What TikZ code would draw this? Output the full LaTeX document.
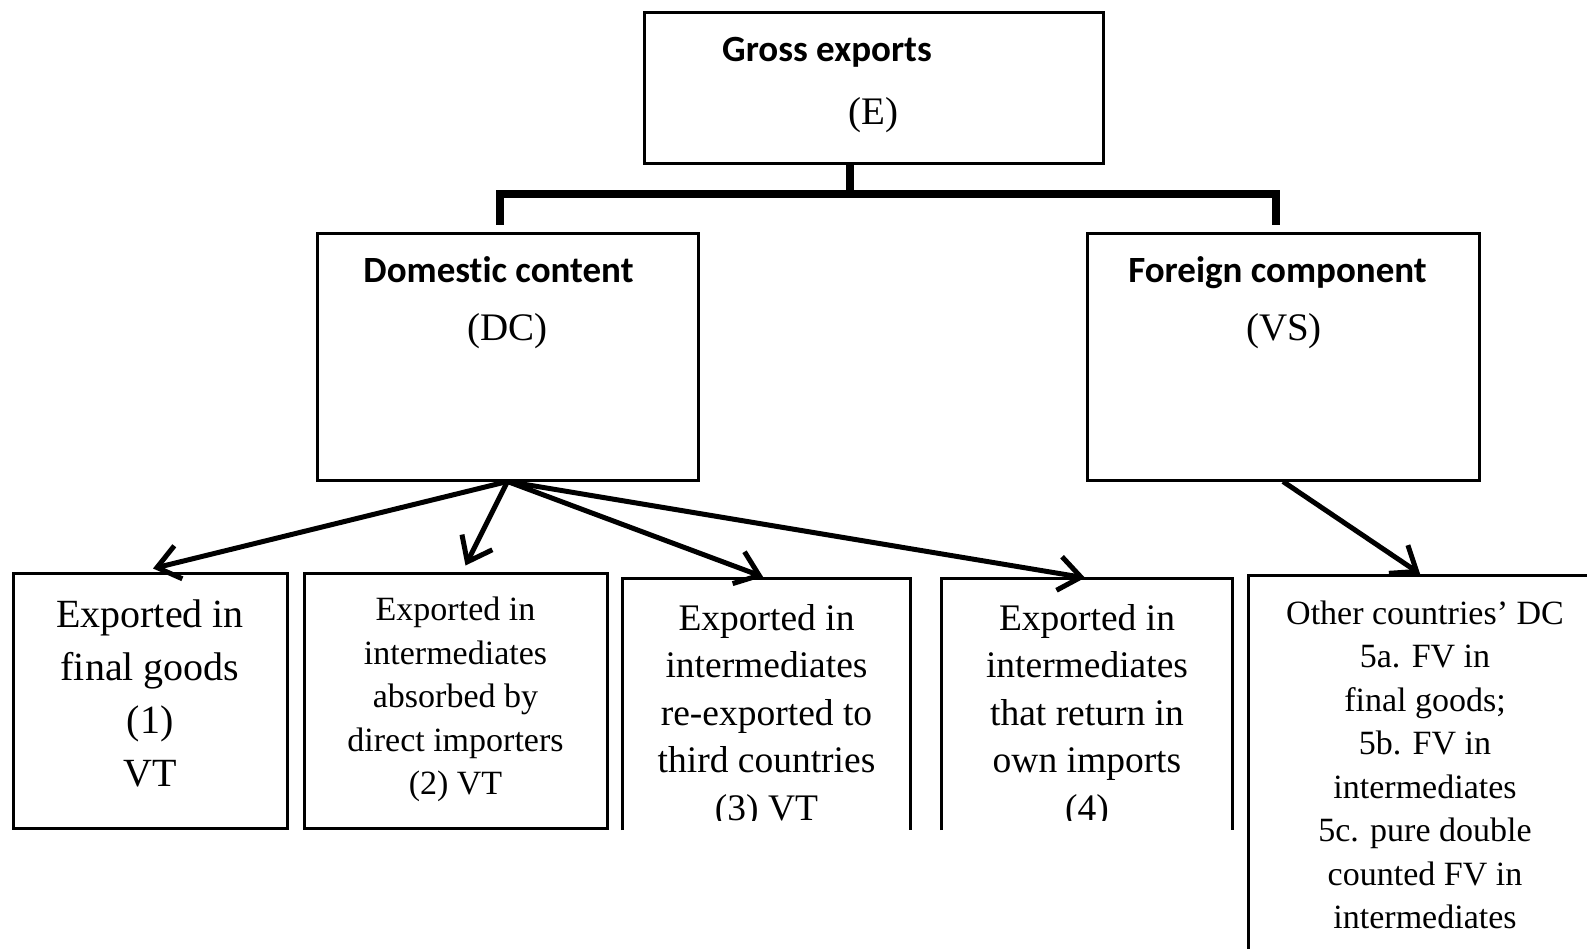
\documentclass[tikz,border=0pt]{standalone}
\usepackage{fontspec}
\setmainfont{Liberation Serif}
\newfontfamily\calib[Ligatures={NoCommon,NoContextual}]{Carlito}
\usetikzlibrary{arrows.meta}
\tikzset{
  frame/.style={draw=black, line width=3pt, inner sep=0pt},
  hollow/.style={inner sep=0pt},
  head/.style={font=\calib\bfseries\fontsize{37}{44}\selectfont, anchor=base, inner sep=0pt},
  tag/.style={font=\fontsize{39}{46}\selectfont, anchor=base, inner sep=0pt},
  conn/.style={line width=5pt, -{Straight Barb[length=22pt,width=34pt,line width=5pt]}},
  bar/.style={line width=8pt, line join=miter},
  txtA/.style={align=center, inner sep=0pt, font=\fontsize{40}{53}\selectfont},
  txtB/.style={align=center, inner sep=0pt, font=\fontsize{34}{43.5}\selectfont},
  txtC/.style={align=center, inner sep=0pt, font=\fontsize{37.5}{47.5}\selectfont},
}
\begin{document}
\begin{tikzpicture}[x=1pt,y=-1pt]
\fill[white] (0,0) rectangle (1587,949);
\useasboundingbox (0,0) rectangle (1587,949);

% top level
\node[frame, minimum width=459pt, minimum height=151pt] (E) at (873.5,88.5) {};
\node[head] (Et) at (827,62) {Gross exports};
\node[tag] (Ev) at (873.5,125) {(E)};

\node[frame, minimum width=381pt, minimum height=246pt] (DC) at (507.5,357) {};
\node[head] (DCt) at (498.5,283) {Domestic content};
\node[tag] (DCv) at (507.5,341) {(DC)};

\node[frame, minimum width=392pt, minimum height=246pt] (FC) at (1283,357) {};
\node[head] (FCt) at (1277.5,283) {Foreign component};
\node[tag] (FCv) at (1284,341) {(VS)};

% bracket
\coordinate (J) at (850,194);
\coordinate (JL) at (500,194);
\coordinate (JR) at (1276,194);
\coordinate (DCtop) at (500,225);
\coordinate (FCtop) at (1276,225);
\draw[bar] (E.south -| J) -- (J);
\draw[bar] (DCtop) -- (JL) -- (JR) -- (FCtop);

% bottom boxes
\node[frame, minimum width=274pt, minimum height=255pt] (B1) at (150,700.5) {};
\node[txtA] (T1) at (150,693.5) {Exported in\\final goods\\(1)\\VT};

\node[frame, minimum width=303pt, minimum height=255pt] (B2) at (455.5,700.5) {};
\node[txtB] (T2) at (455.5,699.7) {Exported in\\intermediates\\absorbed by\\direct importers\\(2) VT};

\node[hollow, minimum width=287pt, minimum height=251pt] (B3) at (766.5,704.5) {};
\draw[frame] (B3.south west) -- (B3.north west) -- (B3.north east) -- (B3.south east);
\node[hollow, minimum width=290pt, minimum height=251pt] (B4) at (1087,704.5) {};
\draw[frame] (B4.south west) -- (B4.north west) -- (B4.north east) -- (B4.south east);
\begin{scope}
\clip (600,560) rectangle (1240,820);
\node[txtC] (T3) at (766.5,716) {Exported in\\intermediates\\re-exported to\\third countries\\(3) VT};
\node[txtC] (T4) at (1087,716) {Exported in\\intermediates\\that return in\\own imports\\(4)};
\end{scope}

\node[hollow, minimum width=338pt, minimum height=373pt] (B5) at (1418,762.5) {};
\draw[frame] (B5.south west) -- (B5.north west) -- (B5.north east);
\node[txtB] (T5) at (1425,765) {Other countries' DC\\5a. FV in\\final goods;\\5b. FV in\\intermediates\\5c. pure double\\counted FV in\\intermediates};

% arrows
\draw[conn] (DC.south) -- ([xshift=3pt,yshift=3pt]B1.north);
\draw[conn] (DC.south) -- ([xshift=10pt,yshift=6pt]B2.north);
\draw[conn] (DC.south) -- ([xshift=-3.5pt,yshift=2pt]B3.north);
\draw[conn] (DC.south) -- ([xshift=-2pt,yshift=1pt]B4.north);
\draw[conn] (FC.south) -- ([xshift=2pt,yshift=2pt]B5.north);
\end{tikzpicture}
\end{document}
